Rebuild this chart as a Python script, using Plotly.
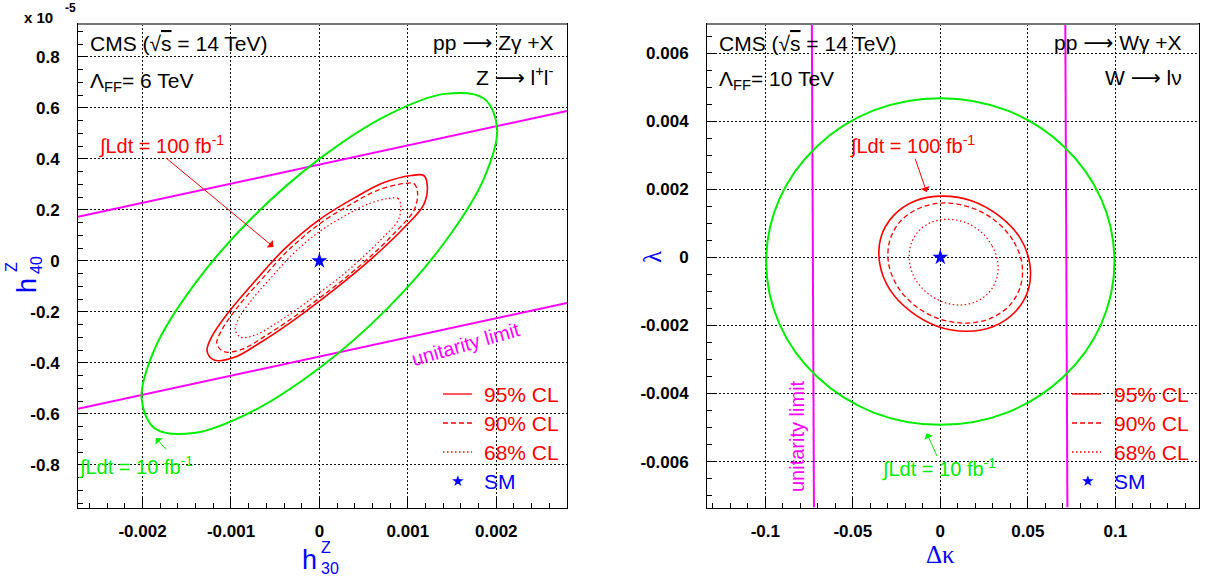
import plotly.graph_objects as go

W, H = 1205, 577

# ---------------- Left panel: pp -> Z gamma + X ----------------
zg_xticks = [-0.002, -0.001, 0, 0.001, 0.002]
zg_xticklabels = ["-0.002", "-0.001", "0", "0.001", "0.002"]
zg_yticks = [0.8, 0.6, 0.4, 0.2, 0, -0.2, -0.4, -0.6, -0.8]
zg_yticklabels = ["0.8", "0.6", "0.4", "0.2", "0", "-0.2", "-0.4", "-0.6", "-0.8"]

# 10 fb-1 contour (green), y in units of 1e-5
zg_green_x = [0.00201, 0.00186, 0.00142, 0.00077, 0.0, -0.00077, -0.00142, -0.00186, -0.00201,
              -0.00186, -0.00142, -0.00077, 0.0, 0.00077, 0.00142, 0.00186, 0.00201]
zg_green_y = [0.52, 0.637, 0.655, 0.572, 0.40, 0.166, -0.095, -0.343, -0.54,
              -0.657, -0.675, -0.592, -0.42, -0.186, 0.075, 0.323, 0.52]

# 100 fb-1 contours (red)
zg_95_x = [0.00104, 0.00118, 0.00122, 0.00118, 0.00096, 0.00068, 0.00034, 0.0, -0.00034, -0.00068,
           -0.00096, -0.00119, -0.00127, -0.00122, -0.00102, -0.00073, -0.0004, 0.0, 0.0004, 0.00073, 0.00104]
zg_95_y = [0.335, 0.335, 0.295, 0.221, 0.131, 0.037, -0.065, -0.158, -0.245, -0.323,
           -0.378, -0.389, -0.354, -0.299, -0.198, -0.080, 0.045, 0.162, 0.248, 0.307, 0.335]
zg_90_x = [0.00095, 0.00107, 0.00111, 0.00107, 0.00087, 0.00062, 0.00031, 0.0, -0.00031, -0.00062,
           -0.00087, -0.00108, -0.00116, -0.00111, -0.00093, -0.00066, -0.00036, 0.0, 0.00036, 0.00066, 0.00095]
zg_90_y = [0.303, 0.303, 0.266, 0.199, 0.117, 0.031, -0.062, -0.146, -0.225, -0.296,
           -0.346, -0.356, -0.325, -0.275, -0.183, -0.075, 0.039, 0.145, 0.223, 0.277, 0.303]
zg_68_x = [0.00078, 0.00089, 0.00092, 0.00089, 0.00072, 0.00051, 0.00026, 0.0, -0.00026, -0.00051,
           -0.00072, -0.00089, -0.00095, -0.00092, -0.00077, -0.00055, -0.0003, 0.0, 0.0003, 0.00055, 0.00078]
zg_68_y = [0.245, 0.245, 0.215, 0.159, 0.092, 0.021, -0.056, -0.125, -0.191, -0.249,
           -0.290, -0.299, -0.272, -0.231, -0.155, -0.067, 0.027, 0.115, 0.179, 0.223, 0.245]

# unitarity limit lines
zg_unit_x = [-0.00273, 0.0028]
zg_unit_upper = [0.173, 0.588]
zg_unit_lower = [-0.580, -0.165]

# ---------------- Right panel: pp -> W gamma + X ----------------
wg_xticks = [-0.1, -0.05, 0, 0.05, 0.1]
wg_xticklabels = ["-0.1", "-0.05", "0", "0.05", "0.1"]
wg_yticks = [0.006, 0.004, 0.002, 0, -0.002, -0.004, -0.006]
wg_yticklabels = ["0.006", "0.004", "0.002", "0", "-0.002", "-0.004", "-0.006"]

wg_green_x = [0.0995, 0.0919, 0.0704, 0.0381, 0.0, -0.0381, -0.0704, -0.0919, -0.0995,
              -0.0919, -0.0704, -0.0381, 0.0, 0.0381, 0.0704, 0.0919, 0.0995]
wg_green_y = [-0.00012, 0.00172, 0.00327, 0.00432, 0.00468, 0.00432, 0.00327, 0.00172, -0.00012,
              -0.00196, -0.00351, -0.00456, -0.00492, -0.00456, -0.00351, -0.00196, -0.00012]

wg_95_x = [0.0511, 0.0455, 0.0336, 0.0182, 0.0013, -0.0145, -0.0269, -0.0340, -0.0346,
           -0.0289, -0.0172, -0.0019, 0.0150, 0.0307, 0.0431, 0.0503, 0.0511]
wg_95_y = [-0.00018, 0.00058, 0.00122, 0.00166, 0.00180, 0.00166, 0.00122, 0.00058, -0.00018,
           -0.00094, -0.00158, -0.00202, -0.00217, -0.00202, -0.00158, -0.00094, -0.00018]
wg_90_x = [0.0466, 0.0414, 0.0313, 0.0178, 0.0028, -0.0114, -0.0225, -0.0288, -0.0296,
           -0.0245, -0.0144, -0.0008, 0.0142, 0.0283, 0.0394, 0.0458, 0.0466]
wg_90_y = [-0.00017, 0.00051, 0.00108, 0.00146, 0.00160, 0.00146, 0.00108, 0.00051, -0.00017,
           -0.00085, -0.00142, -0.00180, -0.00193, -0.00180, -0.00142, -0.00085, -0.00017]
wg_68_x = [0.0328, 0.0295, 0.0230, 0.0141, 0.0042, -0.0052, -0.0126, -0.0170, -0.0176,
           -0.0145, -0.0078, 0.0011, 0.0110, 0.0204, 0.0278, 0.0322, 0.0328]
wg_68_y = [-0.00014, 0.00035, 0.00076, 0.00103, 0.00112, 0.00103, 0.00076, 0.00035, -0.00014,
           -0.00062, -0.00103, -0.00130, -0.00140, -0.00130, -0.00103, -0.00062, -0.00014]

wg_unit_y = [0.00686, -0.00735]
wg_unit_left_x = [-0.0734, -0.0722]
wg_unit_right_x = [0.0714, 0.0726]

sm_x = [0]
sm_y = [0]

# ---------------- styles ----------------
SANS = "Liberation Sans, Arial, Helvetica, sans-serif"
SERIF = "Liberation Serif, Times New Roman, serif"
RED = "#ff0000"
GREEN = "#00ee00"
MAG = "#ff00ff"
BLUE = "#0000ff"
ARROW = "<span style='font-family:DejaVu Sans'>⟶</span>"
SQRTS = "√<span style='text-decoration:overline'>s</span>"

fig = go.Figure()


def curve(x, y, color, width, dash, xa, ya):
    fig.add_trace(go.Scatter(x=x, y=y, mode="lines", xaxis=xa, yaxis=ya,
                             line=dict(color=color, width=width, dash=dash, shape="spline", smoothing=1.0),
                             showlegend=False, hoverinfo="skip"))


def straight(x, y, color, width, xa, ya):
    fig.add_trace(go.Scatter(x=x, y=y, mode="lines", xaxis=xa, yaxis=ya,
                             line=dict(color=color, width=width),
                             showlegend=False, hoverinfo="skip"))


# Left panel traces
straight(zg_unit_x, zg_unit_upper, MAG, 2, "x", "y")
straight(zg_unit_x, zg_unit_lower, MAG, 2, "x", "y")
curve(zg_green_x, zg_green_y, GREEN, 2, "solid", "x", "y")
curve(zg_95_x, zg_95_y, RED, 1.6, "solid", "x", "y")
curve(zg_90_x, zg_90_y, RED, 1.3, "5px,3px", "x", "y")
curve(zg_68_x, zg_68_y, RED, 1.2, "1.5px,2.5px", "x", "y")
fig.add_trace(go.Scatter(x=sm_x, y=sm_y, mode="markers", xaxis="x", yaxis="y",
                         marker=dict(symbol="star", size=12, color=BLUE), showlegend=False))

# Right panel traces
straight(wg_unit_left_x, wg_unit_y, MAG, 2, "x2", "y2")
straight(wg_unit_right_x, wg_unit_y, MAG, 2, "x2", "y2")
curve(wg_green_x, wg_green_y, GREEN, 2, "solid", "x2", "y2")
curve(wg_95_x, wg_95_y, RED, 1.6, "solid", "x2", "y2")
curve(wg_90_x, wg_90_y, RED, 1.3, "5px,3px", "x2", "y2")
curve(wg_68_x, wg_68_y, RED, 1.2, "1.5px,2.5px", "x2", "y2")
fig.add_trace(go.Scatter(x=sm_x, y=sm_y, mode="markers", xaxis="x2", yaxis="y2",
                         marker=dict(symbol="star", size=12, color=BLUE), showlegend=False))


def axis(domain, rng, tickvals, ticktext, minor_dtick, standoff):
    return dict(domain=domain, range=rng, tickmode="array", tickvals=tickvals, ticktext=ticktext,
                ticks="inside", ticklen=10, tickwidth=1, tickcolor="black",
                minor=dict(ticks="inside", ticklen=5, dtick=minor_dtick, tickcolor="black", showgrid=False),
                showgrid=True, gridcolor="#111111", griddash="1.5px,2.5px", gridwidth=1,
                zeroline=False, showline=True, linecolor="black", linewidth=1, mirror=True,
                tickfont=dict(family=SANS, size=17, color="black", weight="bold"),
                ticklabelstandoff=standoff, fixedrange=True)


ydom = [1 - 507.5 / H, 1 - 24 / H]
fig.update_layout(
    width=W, height=H, margin=dict(l=0, r=0, t=0, b=0),
    paper_bgcolor="white", plot_bgcolor="white", showlegend=False,
    xaxis=axis([78 / W, 567 / W], [-0.00273, 0.0028], zg_xticks, zg_xticklabels, 0.0002, 8),
    yaxis=axis(ydom, [-0.967, 0.929], zg_yticks, zg_yticklabels, 0.05, 14),
    xaxis2=axis([707 / W, 1198.5 / W], [-0.1333, 0.1475], wg_xticks, wg_xticklabels, 0.01, 8),
    yaxis2=axis(ydom, [-0.00735, 0.00686], wg_yticks, wg_yticklabels, 0.0005, 14),
)
fig.layout.xaxis.anchor = "y"
fig.layout.yaxis.anchor = "x"
fig.layout.xaxis2.anchor = "y2"
fig.layout.yaxis2.anchor = "x2"


def P(px, py):
    return px / W, 1 - py / H


def text(t, px, py, size, color, xanchor="left", family=SANS, angle=0, bold=False):
    x, y = P(px, py)
    fig.add_annotation(x=x, y=y, xref="paper", yref="paper", text=t, showarrow=False,
                       xanchor=xanchor, yanchor="middle", textangle=angle,
                       font=dict(family=family, size=size, color=color, weight="bold" if bold else "normal"))


# top frame line (grey)
for x0, x1 in [(78, 567), (707, 1198.5)]:
    fig.add_shape(type="line", xref="paper", yref="paper", x0=x0 / W, x1=x1 / W,
                  y0=1 - 24 / H, y1=1 - 24 / H, line=dict(color="#777777", width=2))

# exponent label
text("x 10", 22, 18, 15, "black", bold=True)
text("-5", 63, 8, 12, "black", bold=True)

# Left panel texts
text("CMS (" + SQRTS + " = 14 TeV)", 88, 43, 21, "black")
text("Λ<sub>FF</sub>= 6 TeV", 88, 82, 21, "black")
text("pp " + ARROW + " Zγ +X", 556, 43, 21, "black", xanchor="right")
text("Z " + ARROW + " l<sup>+</sup>l<sup>-</sup>", 556, 77, 21, "black", xanchor="right")
text("∫Ldt = 100 fb<sup>-1</sup>", 97, 145, 20, RED)
text("∫Ldt = 10 fb<sup>-1</sup>", 77, 466, 20, GREEN)
text("unitarity limit", 466, 344, 20, MAG, xanchor="center", angle=-16)

# Right panel texts
text("CMS (" + SQRTS + " = 14 TeV)", 717, 43, 21, "black")
text("Λ<sub>FF</sub>= 10 TeV", 717, 80, 21, "black")
text("pp " + ARROW + " Wγ +X", 1184, 43, 21, "black", xanchor="right")
text("W " + ARROW + " lν", 1184, 78, 21, "black", xanchor="right")
text("∫Ldt = 100 fb<sup>-1</sup>", 848, 145, 20, RED)
text("∫Ldt = 10 fb<sup>-1</sup>", 880, 468, 20, GREEN)
text("unitarity limit", 797, 436, 20, MAG, xanchor="center", angle=-90)

# Legends
for (lx0, lx1, tx, sx) in [(443, 472, 482, 457), (1072, 1101, 1112, 1087)]:
    for ly, dash, lab in [(394, "solid", "95% CL"), (423, "5px,3px", "90% CL"), (452, "1.5px,2.5px", "68% CL")]:
        fig.add_shape(type="line", xref="paper", yref="paper", x0=lx0 / W, x1=lx1 / W,
                      y0=1 - ly / H, y1=1 - ly / H, line=dict(color=RED, width=1.3, dash=dash))
        text(lab, tx, ly, 21, RED)
    text("★", sx, 481, 15, BLUE, xanchor="center", family="DejaVu Sans")
    text("SM", tx, 481, 21, BLUE)

# Axis titles
text("h", 310, 560, 27, BLUE, xanchor="center")
text("Z", 326, 547, 16, BLUE, xanchor="center")
text("30", 330, 568, 16, BLUE, xanchor="center")
text("h", 27, 286, 27, BLUE, xanchor="center", angle=-90)
text("Z", 11, 267, 16, BLUE, xanchor="center", angle=-90)
text("40", 36, 265, 16, BLUE, xanchor="center", angle=-90)
text("Δκ", 940, 554, 25, BLUE, xanchor="center", family=SERIF)
text("λ", 652, 257, 25, BLUE, xanchor="center", family=SERIF, angle=-90)

# Arrows
def arrow(tip, tail, color, xa, ya):
    fig.add_annotation(x=tip[0], y=tip[1], ax=tail[0], ay=tail[1], xref=xa, yref=ya,
                       axref=xa, ayref=ya, text="", showarrow=True, arrowhead=1,
                       arrowsize=1.6, arrowwidth=1, arrowcolor=color)


arrow((-0.00052, 0.055), (-0.00175, 0.408), RED, "x", "y")
arrow((-0.00185, -0.694), (-0.00172, -0.745), GREEN, "x", "y")
arrow((-0.0078, 0.00192), (-0.0147, 0.00295), RED, "x2", "y2")
arrow((-0.0078, -0.00517), (-0.0015, -0.00588), GREEN, "x2", "y2")

fig.write_html("out.html")
